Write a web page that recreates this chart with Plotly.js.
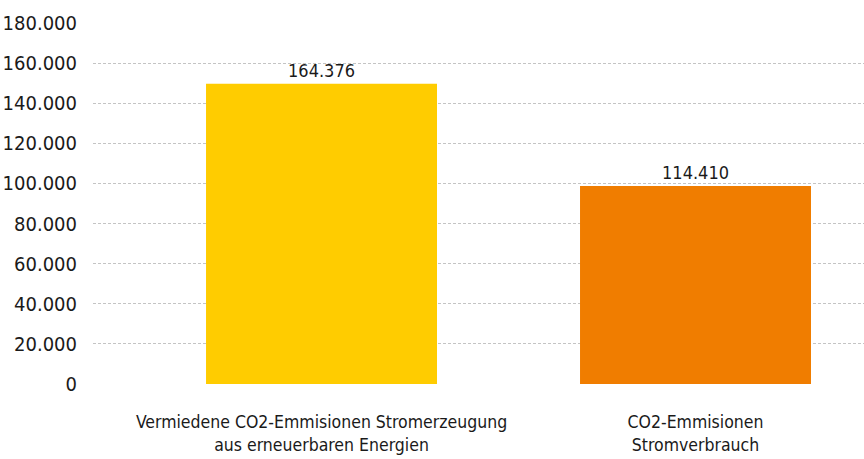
<!DOCTYPE html>
<html>
<head>
<meta charset="utf-8">
<script src="https://cdn.plot.ly/plotly-3.0.1.min.js"></script>
<style>html,body{margin:0;padding:0;background:#fff;}#chart{width:864px;height:459px;}</style>
</head>
<body>
<div id="chart"></div>
<script>
const categories = ["Vermiedene CO2-Emmisionen Stromerzeugung<br>aus erneuerbaren Energien", "CO2-Emmisionen<br>Stromverbrauch"];
const barValues = [149750, 98750];
const labelTexts = ["164.376", "114.410"];
const barColors = ["#FFCC00", "#F07D00"];
const yTicks = [0, 20000, 40000, 60000, 80000, 100000, 120000, 140000, 160000, 180000];
const yTickLabels = ["0", "20.000", "40.000", "60.000", "80.000", "100.000", "120.000", "140.000", "160.000", "180.000"];

const font = "DejaVu Sans Condensed, sans-serif";

Plotly.newPlot("chart", [{
  type: "bar",
  x: [0, 1],
  y: barValues,
  width: 0.6176,
  marker: {color: barColors, line: {width: 0}},
  text: labelTexts,
  texttemplate: "%{text}",
  textposition: "outside",
  cliponaxis: false,
  textfont: {family: font, size: 18, color: "#1a1a1a"},
  hoverinfo: "none"
}], {
  width: 864, height: 459,
  margin: {l: 93, r: 0, t: 23, b: 75},
  paper_bgcolor: "#fff", plot_bgcolor: "#fff",
  showlegend: false,
  font: {family: font, color: "#1a1a1a"},
  xaxis: {
    range: [-0.611, 1.4505],
    tickmode: "array", tickvals: [0, 1], ticktext: categories,
    showgrid: false, zeroline: false, showline: false,
    ticks: "outside", ticklen: 22, tickcolor: "rgba(0,0,0,0)",
    tickfont: {family: font, size: 17.5, color: "#1a1a1a"},
    fixedrange: true
  },
  yaxis: {
    range: [0, 180000],
    tickmode: "array", tickvals: yTicks, ticktext: yTickLabels,
    showgrid: true, gridcolor: "#c4c4c4", griddash: "3px,2px", gridwidth: 1,
    zeroline: false, showline: false,
    ticks: "outside", ticklen: 11, tickcolor: "rgba(0,0,0,0)",
    tickfont: {family: font, size: 20, color: "#1a1a1a"},
    fixedrange: true
  }
}, {displayModeBar: false, staticPlot: true});
</script>
</body>
</html>
